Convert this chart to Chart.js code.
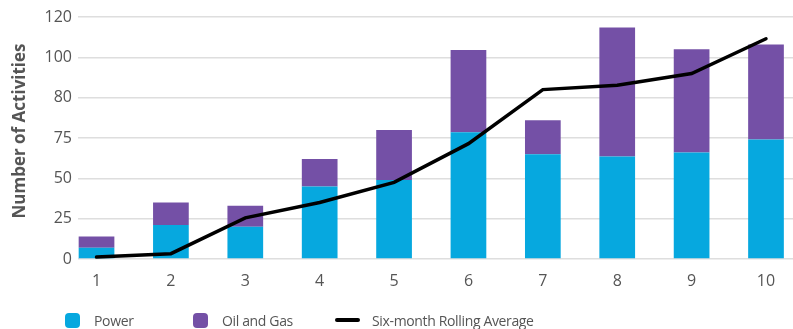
<!DOCTYPE html>
<html>
<head>
<meta charset="utf-8">
<script src="https://cdn.jsdelivr.net/npm/chart.js@4/dist/chart.umd.min.js"></script>
<style>
  html, body { margin: 0; padding: 0; background: #fff; }
  #wrap { position: relative; width: 793px; height: 329px; }
  #chart { position: absolute; left: 0; top: 0; }
  .legend { position: absolute; top: 0; left: 0; width: 793px; height: 329px; pointer-events: none;
            font-family: 'Open Sans', sans-serif; font-size: 14px; letter-spacing: -0.35px; color: #555; }
  .item { position: absolute; top: 311px; height: 18px; display: flex; align-items: center; white-space: nowrap; }
  .swatch { width: 15px; height: 15px; border-radius: 4px; margin-right: 14px; }
  .dash { width: 25px; height: 4px; border-radius: 2px; margin-right: 12px; }
</style>
</head>
<body>
<div id="wrap">
  <canvas id="chart" width="793" height="329"></canvas>
  <div class="legend" id="legend"></div>
</div>
<script>
// Months and activity counts
const months = [1, 2, 3, 4, 5, 6, 7, 8, 9, 10];
const power = [7, 21, 20, 45, 49, 78.5, 65, 63.5, 66, 74];
const oilGas = [7, 14, 13, 17, 31, 51, 21, 80, 64, 59];
const rollingAvg = [1.2, 3.3, 25.5, 35, 47.5, 71.5, 105, 107.7, 115, 136.5];
const yTickLabels = ['0', '25', '50', '75', '80', '100', '120'];
const yTitle = 'Number of Activities';
const seriesNames = ['Power', 'Oil and Gas', 'Six-month Rolling Average'];
const seriesColors = ['#06a8df', '#7450a6', '#000000'];

const toPoints = vals => vals.map((v, i) => ({ x: months[i], y: v }));

// Vertical axis title, drawn beside the tick labels
const yTitlePlugin = {
  id: 'yTitle',
  afterDraw(chart) {
    const ctx = chart.ctx;
    ctx.save();
    ctx.translate(20, 131);
    ctx.rotate(-Math.PI / 2);
    ctx.font = 'bold 17px "Open Sans"';
    ctx.fillStyle = '#555';
    ctx.textAlign = 'center';
    ctx.textBaseline = 'middle';
    ctx.fillText(yTitle, 0, 0);
    ctx.restore();
  }
};

new Chart(document.getElementById('chart'), {
  type: 'bar',
  data: {
    datasets: [
      {
        type: 'line', label: seriesNames[2], data: toPoints(rollingAvg),
        borderColor: seriesColors[2], borderWidth: 3.5, pointRadius: 0,
        tension: 0, stack: 'avg', order: 0, borderCapStyle: 'round'
      },
      {
        label: seriesNames[0], data: toPoints(power), backgroundColor: seriesColors[0],
        stack: 'bars', order: 1, categoryPercentage: 0.8, barPercentage: 0.6
      },
      {
        label: seriesNames[1], data: toPoints(oilGas), backgroundColor: seriesColors[1],
        stack: 'bars', order: 1, categoryPercentage: 0.8, barPercentage: 0.6
      }
    ]
  },
  plugins: [yTitlePlugin],
  options: {
    responsive: false,
    animation: false,
    layout: { padding: { top: 17, bottom: 29, right: 0, left: 0 } },
    plugins: { legend: { display: false }, tooltip: { enabled: false } },
    scales: {
      x: {
        type: 'linear',
        offset: false,
        min: 0.751, max: 10.363,
        grid: { display: false },
        border: { display: false },
        afterBuildTicks: s => { s.ticks = months.map(m => ({ value: m })); },
        afterFit: s => { s.height = 41; },
        ticks: {
          padding: 5, color: '#555',
          font: { family: 'Open Sans', size: 16 },
          callback: v => String(v)
        }
      },
      y: {
        stacked: true,
        min: 0, max: 150,
        afterFit: s => { s.width = 78; },
        grid: { color: '#dedede', lineWidth: 1.5, drawTicks: false },
        border: { display: false },
        ticks: {
          stepSize: 25, padding: 6, color: '#555',
          font: { family: 'Open Sans', size: 16 },
          callback: v => yTickLabels[Math.round(v / 25)]
        }
      }
    }
  }
});

// Legend row
const legendPos = [65, 193, 335];
const legend = document.getElementById('legend');
seriesNames.forEach((name, i) => {
  const item = document.createElement('div');
  item.className = 'item';
  item.style.left = legendPos[i] + 'px';
  const mark = document.createElement('span');
  mark.className = i === 2 ? 'dash' : 'swatch';
  mark.style.background = seriesColors[i];
  const label = document.createElement('span');
  label.textContent = name;
  item.appendChild(mark);
  item.appendChild(label);
  legend.appendChild(item);
});
</script>
</body>
</html>
